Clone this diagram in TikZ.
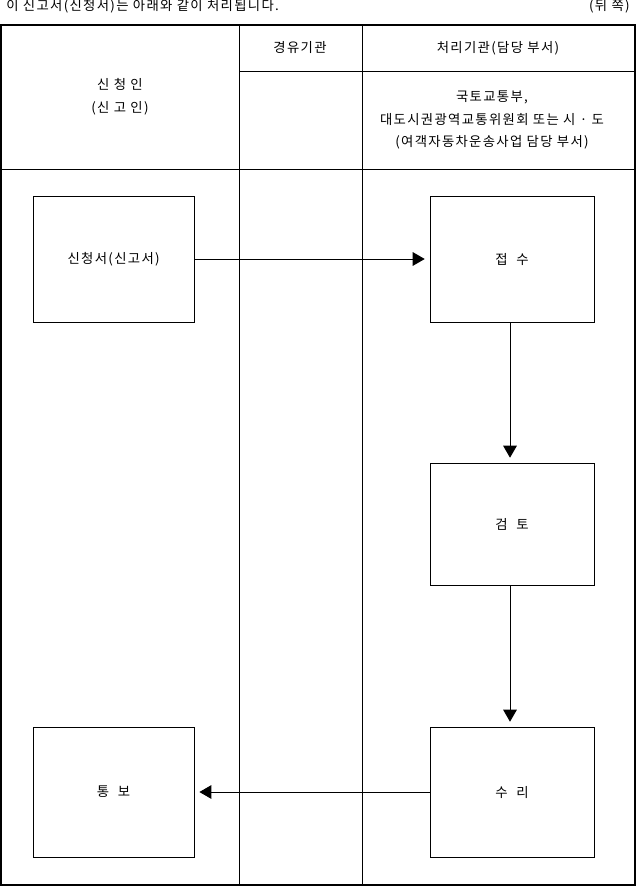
\documentclass[tikz,border=0pt]{standalone}
\usepackage{fontspec}
\usepackage{tikz}
\usetikzlibrary{arrows.meta}
\newfontfamily\kr[LetterSpace=10]{Noto Sans CJK KR}
\tikzstyle{stepbox}=[draw,line width=0.7pt,inner sep=0pt,font=\kr\fontsize{9.5}{11}\selectfont]
\tikzstyle{label}=[inner sep=0pt,font=\kr\fontsize{9.5}{11}\selectfont,align=center]
\tikzstyle{flow}=[line width=0.7pt,-{Triangle[length=0.3cm,width=0.34cm]},shorten >=0.12cm]

\begin{document}
\begin{tikzpicture}
\useasboundingbox (0,0) rectangle (15.9,-22.15);
\node[label, anchor = west] at (0.15, -0.16) (title) {이 신고서(신청서)는 아래와 같이 처리됩니다.};
\node[label, anchor = east] at (15.75, -0.16) (back) {(뒤 쪽)};

\draw[line width=1.4pt] (0.025, -0.625) rectangle (15.875, -22.125);
\draw[line width=0.7pt] (5.975, -0.625) -- (5.975, -22.125);
\draw[line width=0.7pt] (9.05, -0.625) -- (9.05, -22.125);
\draw[line width=0.7pt] (5.975, -1.775) -- (15.875, -1.775);
\draw[line width=0.7pt] (0.025, -4.225) -- (15.875, -4.225);

\node[label] at (3, -2.42) (applicant) {신 청 인\\[0.18cm](신 고 인)};
\node[label] at (7.5, -1.2) (via) {경유기관};
\node[label] at (12.45, -1.2) (office) {처리기관(담당 부서)};
\node[label] at (12.3, -3) (dept) {국토교통부,\\[0.18cm]대도시권광역교통위원회 또는 시 · 도\\[0.18cm](여객자동차운송사업 담당 부서)};

\node[stepbox, minimum width=4.025cm, minimum height=3.15cm] at (2.84, -6.475) (form) {신청서(신고서)};
\node[stepbox, minimum width=4.1cm, minimum height=3.15cm] at (12.8, -6.475) (receive) {접 \ 수};
\node[stepbox, minimum width=4.1cm, minimum height=3.05cm] at (12.8, -13.1) (review) {검 \ 토};
\node[stepbox, minimum width=4.1cm, minimum height=3.25cm] at (12.8, -19.8) (accept) {수 \ 리};
\node[stepbox, minimum width=4.025cm, minimum height=3.25cm] at (2.84, -19.8) (notify) {통 \ 보};

\draw[flow] (form) -- (receive);
\draw[flow] (receive.south -| 12.75, 0) -- (review.north -| 12.75, 0);
\draw[flow] (review.south -| 12.75, 0) -- (accept.north -| 12.75, 0);
\draw[flow] (accept) -- (notify);
\end{tikzpicture}
\end{document}
